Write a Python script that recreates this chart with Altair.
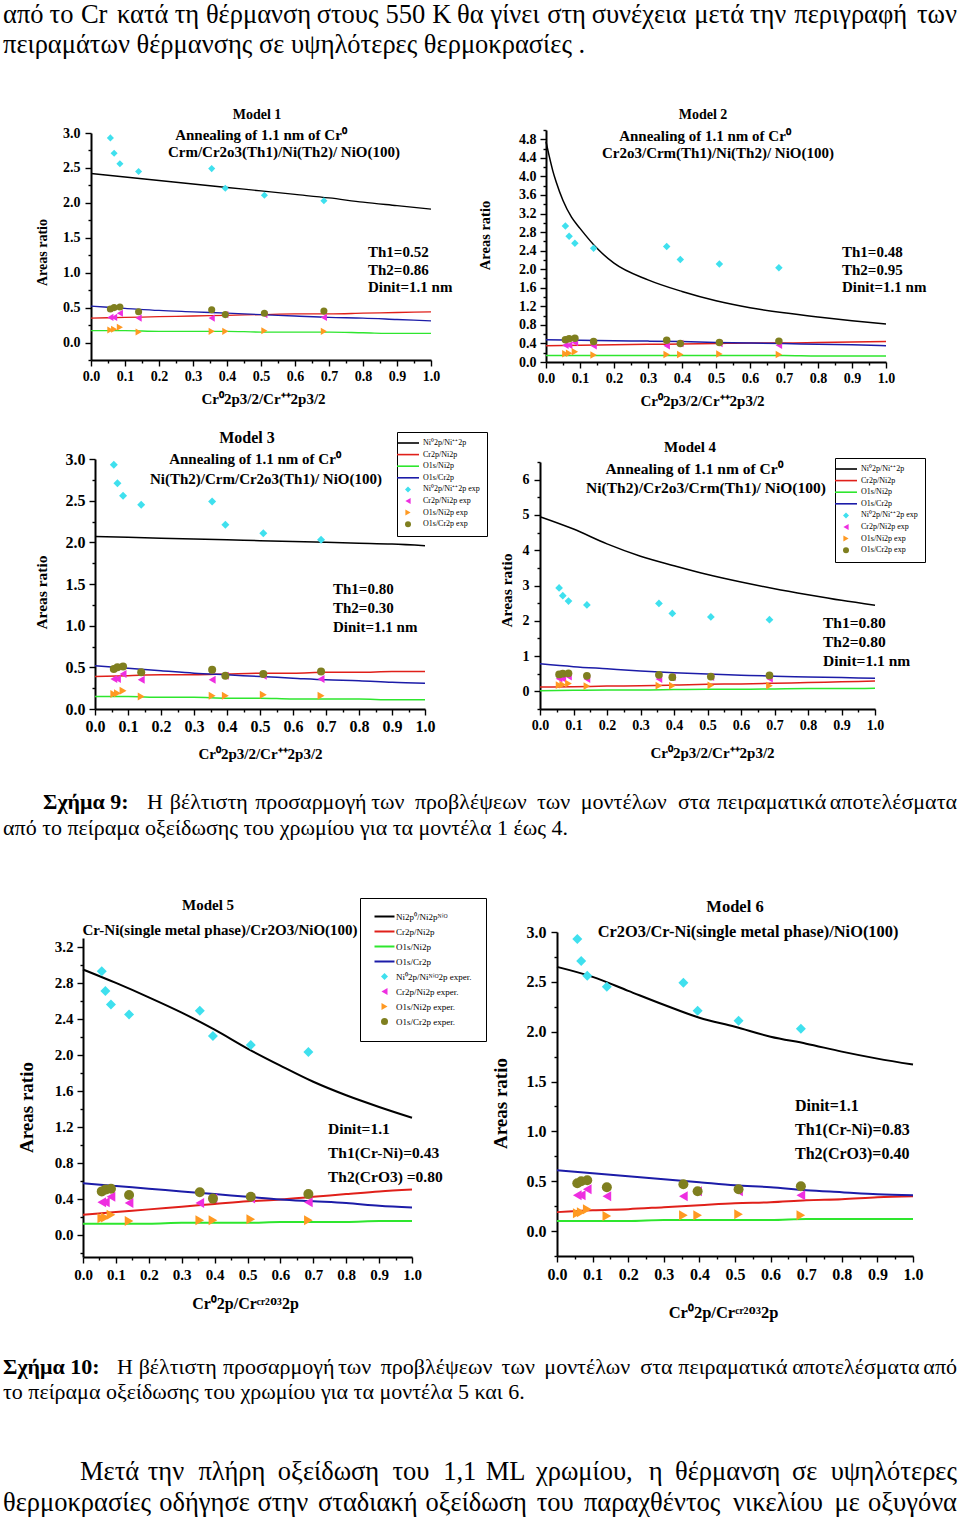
import altair as alt
import pandas as pd

# ---------------- experimental data (same in every panel) ----------------
x_exp = [0.057, 0.068, 0.085, 0.14, 0.355, 0.395, 0.51, 0.685]
ni_exp = [2.93, 2.71, 2.56, 2.45, 2.49, 2.21, 2.11, 2.03]
crni_exp = [0.36, 0.36, 0.42, 0.35, 0.35, 0.40, 0.40, 0.36]
oni_exp = [0.18, 0.19, 0.22, 0.15, 0.16, 0.16, 0.17, 0.16]
ocr_exp = [0.48, 0.50, 0.51, 0.44, 0.47, 0.40, 0.42, 0.45]

# ---------------- model curves ----------------
x_fit = [0.0, 0.1, 0.2, 0.3, 0.4, 0.5, 0.6, 0.7, 0.8, 0.9, 1.0]
x_fit_m2 = [0.0, 0.01, 0.02, 0.03, 0.05, 0.075, 0.1, 0.15, 0.2, 0.3, 0.4,
            0.5, 0.6, 0.7, 0.8, 0.9, 1.0]

m1_ni = [2.42, 2.37, 2.32, 2.27, 2.22, 2.17, 2.12, 2.07, 2.01, 1.96, 1.91]
m1_crni = [0.35, 0.36, 0.37, 0.38, 0.39, 0.40, 0.41, 0.41, 0.42, 0.43, 0.44]
m1_oni = [0.17, 0.17, 0.16, 0.16, 0.16, 0.15, 0.15, 0.15, 0.14, 0.13, 0.13]
m1_ocr = [0.52, 0.49, 0.46, 0.44, 0.42, 0.40, 0.38, 0.36, 0.35, 0.33, 0.31]

m2_ni = [4.75, 4.42, 4.12, 3.88, 3.48, 3.12, 2.88, 2.45, 2.13, 1.77, 1.52,
         1.32, 1.17, 1.06, 0.97, 0.89, 0.82]
m2_crni = [0.35, 0.36, 0.37, 0.38, 0.39, 0.40, 0.41, 0.41, 0.42, 0.43, 0.44]
m2_oni = [0.14, 0.14, 0.14, 0.14, 0.14, 0.14, 0.14, 0.14, 0.13, 0.13, 0.13]
m2_ocr = [0.48, 0.47, 0.46, 0.45, 0.44, 0.42, 0.41, 0.40, 0.38, 0.37, 0.35]

m3_ni = [2.07, 2.06, 2.05, 2.04, 2.03, 2.02, 2.01, 2.00, 1.99, 1.98, 1.96]
m3_crni = [0.39, 0.40, 0.41, 0.41, 0.42, 0.43, 0.43, 0.44, 0.44, 0.45, 0.45]
m3_oni = [0.15, 0.15, 0.14, 0.14, 0.13, 0.13, 0.12, 0.12, 0.12, 0.11, 0.11]
m3_ocr = [0.52, 0.49, 0.46, 0.43, 0.41, 0.39, 0.37, 0.35, 0.34, 0.32, 0.31]

m4_ni = [4.95, 4.60, 4.18, 3.83, 3.56, 3.31, 3.10, 2.91, 2.74, 2.58, 2.44]
m4_crni = [0.12, 0.13, 0.15, 0.16, 0.18, 0.20, 0.21, 0.23, 0.25, 0.27, 0.29]
m4_oni = [0.02, 0.03, 0.04, 0.04, 0.05, 0.06, 0.06, 0.07, 0.08, 0.08, 0.09]
m4_ocr = [0.78, 0.70, 0.64, 0.58, 0.53, 0.49, 0.46, 0.43, 0.41, 0.39, 0.37]

m5_ni = [2.95, 2.80, 2.64, 2.47, 2.28, 2.07, 1.88, 1.70, 1.55, 1.42, 1.30]
m5_crni = [0.22, 0.25, 0.28, 0.31, 0.34, 0.37, 0.39, 0.42, 0.45, 0.48, 0.50]
m5_oni = [0.12, 0.12, 0.12, 0.13, 0.13, 0.13, 0.14, 0.14, 0.14, 0.15, 0.15]
m5_ocr = [0.57, 0.54, 0.51, 0.48, 0.45, 0.42, 0.39, 0.37, 0.35, 0.32, 0.30]

m6_ni = [2.65, 2.55, 2.41, 2.27, 2.14, 2.05, 1.95, 1.88, 1.80, 1.73, 1.67]
m6_crni = [0.19, 0.21, 0.22, 0.24, 0.26, 0.28, 0.29, 0.31, 0.32, 0.34, 0.35]
m6_oni = [0.10, 0.10, 0.10, 0.11, 0.11, 0.11, 0.11, 0.12, 0.12, 0.12, 0.12]
m6_ocr = [0.61, 0.58, 0.55, 0.52, 0.49, 0.46, 0.44, 0.41, 0.39, 0.37, 0.36]

# ---------------- labels / texts ----------------
legend_std = ["Ni⁰2p/Ni⁺⁺2p", "Cr2p/Ni2p", "O1s/Ni2p", "O1s/Cr2p",
              "Ni⁰2p/Ni⁺⁺2p exp", "Cr2p/Ni2p exp", "O1s/Ni2p exp", "O1s/Cr2p exp"]
legend_m5 = ["Ni2p⁰/Ni2pᴺⁱᴼ", "Cr2p/Ni2p", "O1s/Ni2p", "O1s/Cr2p",
             "Ni⁰2p/Niᴺⁱᴼ2p exper.", "Cr2p/Ni2p exper.", "O1s/Ni2p  exper.",
             "O1s/Cr2p exper."]

xtitle_a = "Cr⁰2p3/2/Cr⁺⁺2p3/2"
xtitle_b = "Cr⁰2p/Crᶜʳ²ᴼ³2p"
ytitle = "Areas ratio"
anneal = "Annealing of 1.1 nm of Cr⁰"

top_line1 = "από το Cr κατά τη θέρμανση στους 550 K θα γίνει στη συνέχεια μετά την περιγραφή των"
top_line2 = "πειραμάτων θέρμανσης σε υψηλότερες θερμοκρασίες ."
cap9_bold = "Σχήμα 9:"
cap9_line1 = "Η βέλτιστη προσαρμογή των προβλέψεων των μοντέλων στα πειραματικά αποτελέσματα"
cap9_line2 = "από το πείραμα οξείδωσης του χρωμίου για τα μοντέλα 1 έως 4."
cap10_bold = "Σχήμα 10:"
cap10_line1 = "Η βέλτιστη προσαρμογή των προβλέψεων των μοντέλων στα πειραματικά αποτελέσματα από"
cap10_line2 = "το πείραμα οξείδωσης του χρωμίου για τα μοντέλα 5 και 6."
par_line1 = "Μετά την πλήρη οξείδωση του 1,1 ML χρωμίου, η θέρμανση σε υψηλότερες"
par_line2 = "θερμοκρασίες οδήγησε στην σταδιακή οξείδωση του παραχθέντος νικελίου με οξυγόνα"

SERIF = "Liberation Serif"
PAGE_W, PAGE_H = 960, 1519
LINE_COLORS = ["#000000", "#e0201a", "#2ee62e", "#1c1ca8"]
PT_COLORS = ["#3fe0ee", "#ee2ee0", "#ff9922", "#7f7f1f"]
PT_SHAPES = ["diamond", "triangle-left", "triangle-right", "circle"]


def ticks(lo, hi, step):
    n = int(round((hi - lo) / step))
    return [round(lo + k * step, 4) for k in range(n + 1)]


def make_axis(orient, lo, hi, major, fmt, lab_size, lab_pad, title, t_size, tx, ty, offset):
    minor = major / 2.0
    start = round(-(-lo // minor) * minor, 4)
    vals = ticks(start, hi, minor)
    test = f"abs(datum.value/{major} - round(datum.value/{major})) < 0.001"
    kw = dict(
        orient=orient, values=vals, title=title, offset=offset,
        labelExpr=f"{test} ? format(datum.value, '{fmt}') : ''",
        tickSize={"condition": {"test": test, "value": 6}, "value": 3},
        tickWidth=1.4, tickColor="black", domainColor="black", domainWidth=2,
        labelFont=SERIF, labelFontWeight="bold", labelFontSize=lab_size,
        labelColor="black", labelPadding=lab_pad, labelFlush=False,
        labelOverlap=False, grid=False,
        titleFont=SERIF, titleFontWeight="bold", titleFontSize=t_size,
        titleColor="black", titleX=tx, titleY=ty, titleBaseline="middle",
        titleAlign="center",
    )
    if orient == "left":
        kw["titleAngle"] = 270
    return alt.Axis(**kw)


def panel(cfg):
    labels = cfg["labels"]
    rows = []
    for xs, ys, name in zip(cfg["line_x"], cfg["line_y"], labels[:4]):
        for xv, yv in zip(xs, ys):
            rows.append({"x": xv, "y": yv, "series": name})
    line_df = pd.DataFrame(rows)
    prow = []
    for ys, name in zip([ni_exp, crni_exp, oni_exp, ocr_exp], labels[4:]):
        for xv, yv in zip(x_exp, ys):
            prow.append({"x": xv, "y": yv, "series": name})
    pt_df = pd.DataFrame(prow)

    x0, x1, ytop, ybot = cfg["box"]
    xscale = alt.Scale(domain=[0, 1], nice=False, zero=False, range=[x0, x1])
    yscale = alt.Scale(domain=cfg["ydom"], nice=False, zero=False, range=[ybot, ytop])
    xaxis = make_axis("bottom", 0, 1, 0.1, ".1f", cfg["lab"], cfg["xlp"], cfg["xtitle"],
                      cfg["xts"], cfg["xtx"], cfg["xty"], -(PAGE_H - ybot))
    yaxis = make_axis("left", cfg["ydom"][0], cfg["ydom"][1], cfg["ystep"], cfg["yfmt"],
                      cfg["lab"], cfg["ylp"], ytitle, cfg["yts"], cfg["ytx"], cfg["yty"], -x0)

    lines = alt.Chart(line_df).mark_line(strokeWidth=cfg["lw"], interpolate="monotone").encode(
        x=alt.X("x:Q", scale=xscale, axis=xaxis),
        y=alt.Y("y:Q", scale=yscale, axis=yaxis),
        stroke=alt.Stroke("series:N", scale=alt.Scale(domain=labels[:4], range=LINE_COLORS),
                          legend=None),
    )

    if cfg["legend"]:
        ss = cfg["leg_ss"]
        r = (ss ** 0.5) / 2.0
        hw = cfg["leg_bar"] / r
        th = cfg["leg_th"] / r
        bar = f"M{-hw:.3f},{-th:.3f}H{hw:.3f}V{th:.3f}H{-hw:.3f}Z"
        shapes = [bar] * 4 + PT_SHAPES
        leg = alt.Legend(
            orient="none", legendX=cfg["leg_x"], legendY=cfg["leg_y"], title=None,
            strokeColor="black", fillColor="white", padding=cfg["leg_pad"],
            labelFont=SERIF, labelFontSize=cfg["leg_fs"], labelColor="black",
            symbolSize=ss, symbolStrokeWidth=0, rowPadding=cfg["leg_rp"],
            labelOffset=cfg["leg_lo"], symbolOffset=cfg["leg_so"], symbolOpacity=1,
        )
    else:
        shapes = ["square"] * 4 + PT_SHAPES
        leg = None

    pts = alt.Chart(pt_df).mark_point(filled=True, size=cfg["ps"], opacity=1).encode(
        x=alt.X("x:Q", scale=xscale, axis=xaxis),
        y=alt.Y("y:Q", scale=yscale, axis=yaxis),
        fill=alt.Fill("series:N", scale=alt.Scale(domain=labels,
                                                   range=LINE_COLORS + PT_COLORS),
                      legend=leg),
        shape=alt.Shape("series:N", scale=alt.Scale(domain=labels, range=shapes),
                        legend=leg),
    )
    return alt.layer(lines, pts)


def text_layers(items):
    out = []
    for t, x, y, size, weight, align in items:
        out.append(
            alt.Chart(pd.DataFrame({"t": [t]})).mark_text(
                align=align, baseline="middle", font=SERIF, fontSize=size,
                fontWeight=weight, color="black"
            ).encode(x=alt.value(x), y=alt.value(y), text="t:N")
        )
    return out


common_a = dict(labels=legend_std, xtitle=xtitle_a, legend=False)

p1 = panel(dict(common_a, box=(91, 431, 133, 360), ydom=[-0.25, 3.0], ystep=0.5, yfmt=".1f",
                line_x=[x_fit] * 4, line_y=[m1_ni, m1_crni, m1_oni, m1_ocr],
                lab=14, xlp=3, ylp=5, xts=15, xtx=263, xty=38, yts=14, ytx=-49, yty=252,
                lw=1.3, ps=50))
p2 = panel(dict(common_a, box=(546, 886, 130, 362), ydom=[0.0, 5.0], ystep=0.4, yfmt=".1f",
                line_x=[x_fit_m2, x_fit, x_fit, x_fit],
                line_y=[m2_ni, m2_crni, m2_oni, m2_ocr],
                lab=14, xlp=3, ylp=4, xts=15, xtx=702, xty=38, yts=14.5, ytx=-61, yty=235,
                lw=1.5, ps=56))
p3 = panel(dict(common_a, legend=True, box=(95, 425, 459, 709), ydom=[0.0, 3.0], ystep=0.5,
                yfmt=".1f", line_x=[x_fit] * 4, line_y=[m3_ni, m3_crni, m3_oni, m3_ocr],
                lab=16, xlp=3, ylp=4, xts=15, xtx=260, xty=44, yts=15.5, ytx=-54, yty=592,
                lw=1.5, ps=64,
                leg_x=397, leg_y=432, leg_pad=7, leg_fs=8, leg_ss=36, leg_rp=3.6,
                leg_lo=11, leg_so=0, leg_bar=11, leg_th=0.8))
p4 = panel(dict(common_a, legend=True, box=(540, 875, 462, 709), ydom=[-0.5, 6.5], ystep=1,
                yfmt="d", line_x=[x_fit] * 4, line_y=[m4_ni, m4_crni, m4_oni, m4_ocr],
                lab=14, xlp=3, ylp=5, xts=15, xtx=712, xty=43, yts=15.5, ytx=-34, yty=590,
                lw=1.5, ps=60,
                leg_x=835, leg_y=458, leg_pad=7, leg_fs=8, leg_ss=36, leg_rp=3.6,
                leg_lo=11, leg_so=0, leg_bar=11, leg_th=0.8))
p5 = panel(dict(labels=legend_m5, xtitle=xtitle_b, legend=True, box=(83, 412, 938, 1257),
                ydom=[-0.25, 3.3], ystep=0.4, yfmt=".1f",
                line_x=[x_fit] * 4, line_y=[m5_ni, m5_crni, m5_oni, m5_ocr],
                lab=15, xlp=4, ylp=4, xts=16, xtx=245, xty=46, yts=19, ytx=-57, yty=1107,
                lw=2, ps=100,
                leg_x=360, leg_y=898, leg_pad=14, leg_fs=9, leg_ss=49, leg_rp=5,
                leg_lo=7, leg_so=6, leg_bar=10, leg_th=1.0))
p6 = panel(dict(labels=legend_std, xtitle=xtitle_b, legend=False, box=(557, 913, 932, 1256),
                ydom=[-0.25, 3.0], ystep=0.5, yfmt=".1f",
                line_x=[x_fit] * 4, line_y=[m6_ni, m6_crni, m6_oni, m6_ocr],
                lab=16, xlp=4, ylp=5, xts=16.5, xtx=723, xty=56, yts=19, ytx=-57, yty=1103,
                lw=2, ps=100))

B = "bold"
panel_texts = [
    ("Model 1", 257, 115, 14, B, "center"), (anneal, 261, 135, 15, B, "center"),
    ("Crm/Cr2o3(Th1)/Ni(Th2)/ NiO(100)", 284, 152, 15, B, "center"),
    ("Th1=0.52", 368, 252, 15, B, "left"), ("Th2=0.86", 368, 270, 15, B, "left"),
    ("Dinit=1.1 nm", 368, 287, 15, B, "left"),

    ("Model 2", 703, 115, 14, B, "center"), (anneal, 705, 136, 15, B, "center"),
    ("Cr2o3/Crm(Th1)/Ni(Th2)/ NiO(100)", 718, 153, 15, B, "center"),
    ("Th1=0.48", 842, 252, 15, B, "left"), ("Th2=0.95", 842, 270, 15, B, "left"),
    ("Dinit=1.1 nm", 842, 287, 15, B, "left"),

    ("Model 3", 247, 438, 16, B, "center"), (anneal, 255, 459, 15, B, "center"),
    ("Ni(Th2)/Crm/Cr2o3(Th1)/ NiO(100)", 266, 479, 15, B, "center"),
    ("Th1=0.80", 333, 589, 15, B, "left"), ("Th2=0.30", 333, 608, 15, B, "left"),
    ("Dinit=1.1 nm", 333, 627, 15, B, "left"),

    ("Model 4", 690, 447, 15, B, "center"), (anneal, 694, 469, 15.5, B, "center"),
    ("Ni(Th2)/Cr2o3/Crm(Th1)/ NiO(100)", 706, 488, 15.5, B, "center"),
    ("Th1=0.80", 823, 623, 15.5, B, "left"), ("Th2=0.80", 823, 642, 15.5, B, "left"),
    ("Dinit=1.1 nm", 823, 661, 15.5, B, "left"),

    ("Model 5", 208, 905, 15, B, "center"),
    ("Cr-Ni(single metal phase)/Cr2O3/NiO(100)", 220, 930, 15, B, "center"),
    ("Dinit=1.1", 328, 1129, 15.5, B, "left"), ("Th1(Cr-Ni)=0.43", 328, 1153, 15.5, B, "left"),
    ("Th2(CrO3) =0.80", 328, 1177, 15.5, B, "left"),

    ("Model 6", 735, 907, 16.5, B, "center"),
    ("Cr2O3/Cr-Ni(single metal phase)/NiO(100)", 748, 932, 16.4, B, "center"),
    ("Dinit=1.1", 795, 1106, 16, B, "left"), ("Th1(Cr-Ni)=0.83", 795, 1130, 16, B, "left"),
    ("Th2(CrO3)=0.40", 795, 1154, 16, B, "left"),
]

# ---------------- page text helpers ----------------
CHAR_EM = {}
for _c in "ιίϊ.,:;'!|":
    CHAR_EM[_c] = 0.27
for _c in "rtfτςεέζξγ()-1/":
    CHAR_EM[_c] = 0.42
for _c in "ψφ":
    CHAR_EM[_c] = 0.63
for _c in "ωώmΜM":
    CHAR_EM[_c] = 0.72
for _c in "ΗKCLΣ":
    CHAR_EM[_c] = 0.68


def est_width(word, size):
    return sum(CHAR_EM.get(ch, 0.5) for ch in word) * size


def justified(line, x0, x1, y, size, weight="normal"):
    words = line.split()
    widths = [est_width(w, size) for w in words]
    gap = (x1 - x0 - sum(widths)) / (len(words) - 1)
    items = []
    x = x0
    for i, (w, wd) in enumerate(zip(words, widths)):
        if i == len(words) - 1:
            items.append((w, x1, y, size, weight, "right"))
        else:
            items.append((w, x, y, size, weight, "left"))
        x += wd + gap
    return items


TOP_FS = 26.5
CAP_FS = 22
PAR_FS = 26.5

page_texts = (justified(top_line1, 3, 957, 15, TOP_FS)
              + [(top_line2, 3, 45, TOP_FS, "normal", "left")]
              + [(cap9_bold, 43, 802, CAP_FS, "bold", "left")]
              + justified(cap9_line1, 147, 957, 802, CAP_FS)
              + [(cap9_line2, 3, 828, CAP_FS, "normal", "left")]
              + [(cap10_bold, 3, 1367, CAP_FS, "bold", "left")]
              + justified(cap10_line1, 117, 957, 1367, CAP_FS)
              + [(cap10_line2, 3, 1392, CAP_FS, "normal", "left")]
              + justified(par_line1, 80, 957, 1472, PAR_FS)
              + justified(par_line2, 3, 957, 1503, PAR_FS))

RES = dict(x="independent", y="independent", fill="independent", shape="independent",
           stroke="independent")

chart = alt.layer(
    p1, p2, p3, p4, p5, p6, *text_layers(panel_texts), *text_layers(page_texts)
).resolve_scale(**RES).resolve_axis(x="independent", y="independent").resolve_legend(
    fill="independent", shape="independent", stroke="independent"
).properties(width=PAGE_W, height=PAGE_H, padding=0, background="white").configure_view(
    stroke=None).configure_axis(labelOverlap=False)

chart.save("out.html", embed_options={"renderer": "svg", "actions": False})
